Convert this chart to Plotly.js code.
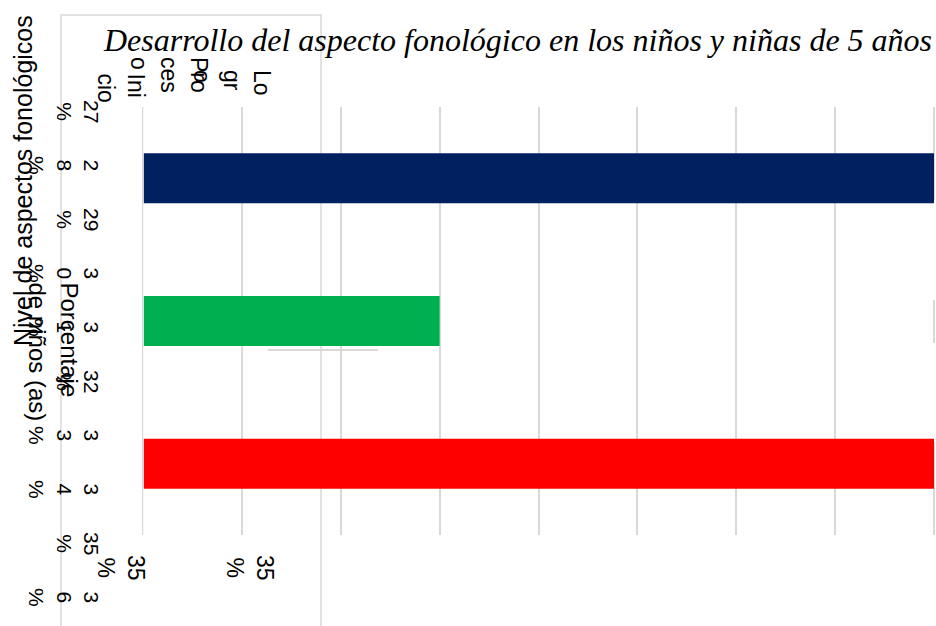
<!DOCTYPE html>
<html><head><meta charset="utf-8">
<script src="https://cdn.plot.ly/plotly-3.0.1.min.js"></script>
<style>html,body{margin:0;padding:0;background:#fff}#chart{width:936px;height:626px}</style>
</head><body><div id="chart"></div>
<script>
// ---- data ----
const categories = ["Logro", "Proceso", "Inicio"];
const categoryLabels = ["Lo<br>gr<br>o", "Pro<br>ces<br>o", "Ini<br>cio"];
const percentages = [35, 30, 35];
const barColors = ["#002060", "#00B050", "#FF0000"];
const tickValues = [27, 28, 29, 30, 31, 32, 33, 34, 35, 36];
const tickLabels = ["27<br>%", "2<br>8<br>%", "29<br>%", "3<br>0<br>%", "3<br>1<br>%",
                    "32<br>%", "3<br>3<br>%", "3<br>4<br>%", "35<br>%", "3<br>6<br>%"];
const valueLabels = [percentages[0], percentages[2]].map(v => v + "<br>%");
const titleText = "Desarrollo del aspecto fonológico en los niños y niñas de 5 años";
const yTitleText = "Nivel de aspectos fonológicos";
const xTitleText = "Porcentaje<br>de niños (as)";
const xMin = 27, xMax = 35;

// ---- geometry helpers ----
const W = 936, H = 626;
const M = {l: 143, r: 2, t: 100, b: 20};
const PW = W - M.l - M.r, PH = H - M.t - M.b;
const px = x => (x - M.l) / PW;
const py = y => (H - M.b - y) / PH;

const sans = "Liberation Sans, Arial, sans-serif";
const grid = "#d9d9d9";

const traces = [
  {
    type: "bar", orientation: "h",
    y: categories, x: percentages,
    marker: {color: barColors},
    width: 0.35,
    hoverinfo: "skip", showlegend: false
  },
  {
    type: "scatter", mode: "markers",
    x: tickValues.map(() => 0), y: tickValues,
    xaxis: "x2", yaxis: "y2",
    marker: {size: 1, opacity: 0},
    hoverinfo: "skip", showlegend: false
  }
];

const annotations = [];
annotations.push({
  text: yTitleText, xref: "paper", yref: "paper", x: px(23), y: py(181),
  xanchor: "center", yanchor: "middle", textangle: -90, showarrow: false,
  font: {family: sans, size: 25, color: "#000"}
});
annotations.push({
  text: xTitleText, xref: "paper", yref: "paper", x: px(54), y: py(280),
  xanchor: "center", yanchor: "top", textangle: 90, align: "left", showarrow: false,
  font: {family: sans, size: 24, color: "#000"}
});
const catRight = [277, 214, 151], catTop = [68, 55, 71];
categoryLabels.forEach((t, i) => annotations.push({
  text: t, xref: "paper", yref: "paper", x: px(catRight[i]), y: py(catTop[i]),
  xanchor: "right", yanchor: "top", textangle: 90, align: "left", showarrow: false,
  font: {family: sans, size: 23, color: "#000"}
}));
tickValues.forEach((v, i) => annotations.push({
  text: tickLabels[i], xref: "paper", yref: "y2", x: px(105), y: v,
  xanchor: "right", yanchor: "middle", textangle: 90, align: "center", showarrow: false,
  font: {family: sans, size: 21, color: "#000"}
}));
const valX = [121, 250];
valueLabels.forEach((t, i) => annotations.push({
  text: t, xref: "paper", yref: "paper", x: px(valX[i]), y: py(568),
  xanchor: "center", yanchor: "middle", textangle: 90, align: "center", showarrow: false,
  font: {family: sans, size: 23, color: "#000"}
}));

const yDom = [py(535), py(107)];
const shapes = [
  {type: "rect", xref: "paper", yref: "paper", x0: px(61), x1: px(321), y0: py(15), y1: py(700),
   line: {color: grid, width: 1.5}, fillcolor: "rgba(0,0,0,0)", layer: "below"},
  {type: "line", xref: "paper", yref: "paper", x0: px(268), x1: px(378), y0: py(350), y1: py(350),
   line: {color: grid, width: 2}, layer: "below"},
  // edge gridlines of the value axis (paper-referenced so they are not clipped)
  {type: "line", xref: "paper", yref: "paper", x0: 0, x1: 0, y0: yDom[0], y1: yDom[1],
   line: {color: grid, width: 2}, layer: "below"},
  {type: "line", xref: "paper", yref: "paper", x0: px(934), x1: px(934), y0: yDom[0], y1: yDom[1],
   line: {color: grid, width: 2}, layer: "below"},
  // blank patches where the gridlines are interrupted
  {type: "rect", xref: "paper", yref: "paper", x0: px(560), x1: px(945), y0: py(200), y1: py(300),
   line: {width: 0}, fillcolor: "#fff", layer: "between"},
  {type: "rect", xref: "paper", yref: "paper", x0: px(525), x1: px(561), y0: py(245), y1: py(300),
   line: {width: 0}, fillcolor: "#fff", layer: "between"},
  {type: "rect", xref: "paper", yref: "paper", x0: px(490), x1: px(945), y0: py(343), y1: py(442),
   line: {width: 0}, fillcolor: "#fff", layer: "between"}
];

const layout = {
  width: W, height: H, margin: M,
  paper_bgcolor: "#fff", plot_bgcolor: "#fff",
  title: {
    text: titleText, xref: "container", yref: "container",
    x: 518 / W, y: 1 - 40 / H, xanchor: "center", yanchor: "middle",
    font: {family: "Liberation Serif, Times New Roman, serif", size: 32, style: "italic", color: "#000"}
  },
  xaxis: {
    range: [xMin, xMax], tick0: xMin, dtick: 1, showgrid: true, gridcolor: grid, gridwidth: 2,
    showticklabels: false, ticks: "", zeroline: false, showline: false, fixedrange: true,
    domain: [0, 1], anchor: "y"
  },
  yaxis: {
    type: "category", autorange: "reversed", showgrid: false, showticklabels: false,
    ticks: "", zeroline: false, showline: false, fixedrange: true,
    domain: yDom
  },
  xaxis2: {domain: [0, 0.001], anchor: "y2", visible: false, range: [-1, 1], fixedrange: true},
  yaxis2: {
    domain: [0, 1], anchor: "x2", visible: false, fixedrange: true,
    range: [27 + (H - M.b - 111) / 54, 27 - (111 - M.t) / 54]
  },
  annotations: annotations,
  shapes: shapes,
  showlegend: false
};

Plotly.newPlot("chart", traces, layout, {displayModeBar: false, staticPlot: true});
</script>
</body></html>
